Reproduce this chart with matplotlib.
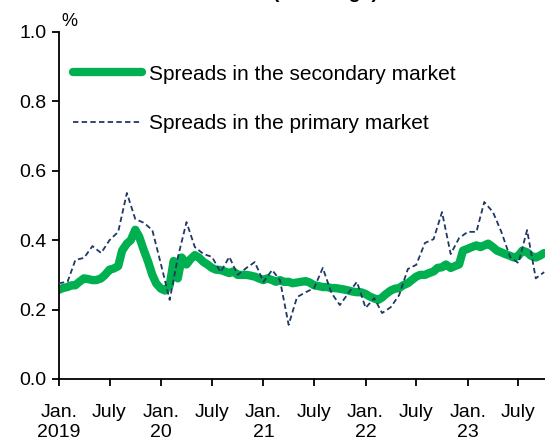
import matplotlib
matplotlib.use("Agg")
import matplotlib.pyplot as plt
import matplotlib.dates as mdates
import pandas as pd

plt.rcParams["font.family"] = ["Liberation Sans", "DejaVu Sans"]

# secondary market spreads, twice a month from Jan. 2019 (%)
secondary_start = "2019-01-01"
secondary = [
    0.257, 0.262, 0.265, 0.270, 0.270, 0.280, 0.290, 0.288, 0.285, 0.285,
    0.290, 0.300, 0.315, 0.318, 0.325, 0.370, 0.390, 0.400, 0.430, 0.410,
    0.370, 0.340, 0.300, 0.275, 0.260, 0.255, 0.270, 0.340, 0.290, 0.350,
    0.330, 0.345, 0.357, 0.350, 0.337, 0.330, 0.320, 0.315, 0.314, 0.310,
    0.305, 0.310, 0.300, 0.300, 0.300, 0.298, 0.295, 0.290, 0.285, 0.290,
    0.285, 0.280, 0.285, 0.280, 0.280, 0.276, 0.278, 0.280, 0.282, 0.278,
    0.270, 0.268, 0.265, 0.265, 0.262, 0.262, 0.260, 0.258, 0.255, 0.252,
    0.250, 0.250, 0.245, 0.238, 0.232, 0.228, 0.235, 0.245, 0.255, 0.260,
    0.262, 0.270, 0.276, 0.285, 0.295, 0.300, 0.300, 0.305, 0.310, 0.320,
    0.322, 0.330, 0.320, 0.325, 0.330, 0.370, 0.375, 0.380, 0.385, 0.380,
    0.385, 0.390, 0.380, 0.370, 0.365, 0.360, 0.355, 0.350, 0.355, 0.370,
    0.365, 0.355, 0.350, 0.355, 0.363,
]

# primary market spreads, monthly from Jan. 2019 (%)
primary_start = "2019-01-01"
primary = [
    0.276, 0.280, 0.343, 0.349, 0.383, 0.363, 0.400, 0.424, 0.536, 0.461,
    0.450, 0.429, 0.330, 0.228, 0.350, 0.452, 0.380, 0.360, 0.352, 0.308,
    0.352, 0.300, 0.320, 0.337, 0.280, 0.314, 0.285, 0.156, 0.236, 0.250,
    0.262, 0.320, 0.248, 0.213, 0.248, 0.280, 0.205, 0.233, 0.190, 0.207,
    0.242, 0.317, 0.329, 0.392, 0.403, 0.481, 0.360, 0.406, 0.424, 0.424,
    0.510, 0.481, 0.424, 0.352, 0.334, 0.429, 0.290, 0.308,
]

tick_dates = ["2019-01-01", "2019-07-01", "2020-01-01", "2020-07-01", "2021-01-01",
              "2021-07-01", "2022-01-01", "2022-07-01", "2023-01-01", "2023-07-01"]
tick_labels = ["Jan.\n2019", "July", "Jan.\n20", "July", "Jan.\n21",
               "July", "Jan.\n22", "July", "Jan.\n23", "July"]
y_ticks = [0.0, 0.2, 0.4, 0.6, 0.8, 1.0]

sec_dates = pd.date_range(secondary_start, periods=len(secondary), freq="SMS")
pri_dates = pd.date_range(primary_start, periods=len(primary), freq="MS")

fig = plt.figure(figsize=(5.45, 4.43), dpi=100)
ax = fig.add_axes([0.108, 0.1445, 0.892, 0.7833])

ax.plot(sec_dates, secondary, color="#00B050", lw=6.0, solid_capstyle="round",
        solid_joinstyle="round", label="Spreads in the secondary market", zorder=2)
ax.plot(pri_dates, primary, color="#1F3864", lw=1.3, dashes=(3, 1.8),
        label="Spreads in the primary market", zorder=3)

ax.set_ylim(0, 1.0)
ax.set_xlim(pd.Timestamp("2019-01-01"), pd.Timestamp("2023-10-04"))
ax.set_yticks(y_ticks)
ax.set_yticklabels([f"{v:.1f}" for v in y_ticks])
ax.set_xticks([mdates.date2num(pd.Timestamp(d)) for d in tick_dates])
ax.set_xticklabels(tick_labels, linespacing=1.25)

for side in ["top", "right"]:
    ax.spines[side].set_visible(False)
for side in ["left", "bottom"]:
    ax.spines[side].set_linewidth(1.3)
ax.tick_params(axis="both", direction="out", length=5, width=1.3,
               labelsize=14, colors="black")
ax.tick_params(axis="x", pad=13)
ax.tick_params(axis="y", pad=4)

ax.text(0.006, 1.005, "%", transform=ax.transAxes, fontsize=13, va="bottom", ha="left")

ax.legend(loc="upper left", bbox_to_anchor=(0.012, 0.93), frameon=False,
          fontsize=15, handlelength=3.3, handletextpad=0.35, labelspacing=1.45,
          borderaxespad=0.0)

# title cut off at the top of the image
fig.text(0.539, 1 + 2 / 443, "bonds (all ratings)", fontsize=14, fontweight="bold",
         ha="center", va="baseline")

fig.savefig("out.png", dpi=100)
